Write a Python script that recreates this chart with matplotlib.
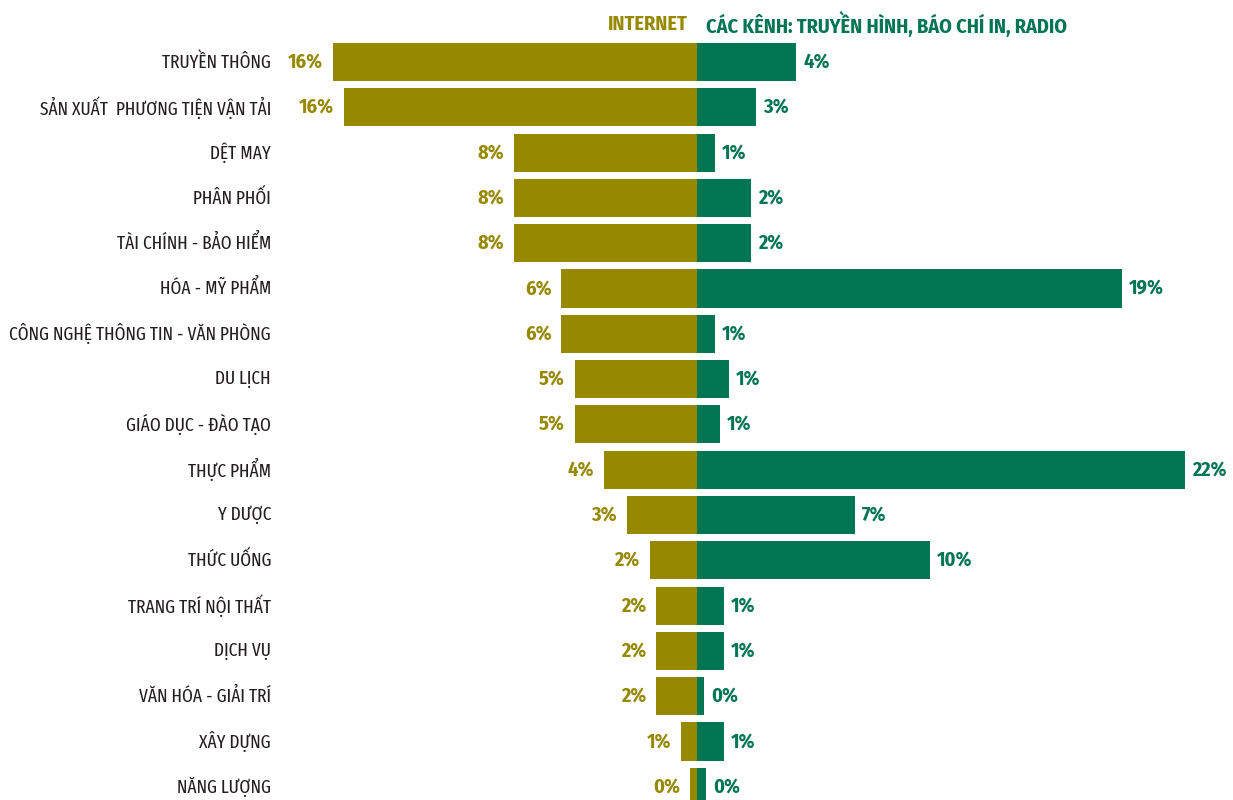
import matplotlib
matplotlib.use("Agg")
import matplotlib.pyplot as plt
import numpy as np

categories = [
    "TRUYỀN THÔNG", "SẢN XUẤT  PHƯƠNG TIỆN VẬN TẢI", "DỆT MAY", "PHÂN PHỐI",
    "TÀI CHÍNH - BẢO HIỂM", "HÓA - MỸ PHẨM", "CÔNG NGHỆ THÔNG TIN - VĂN PHÒNG",
    "DU LỊCH", "GIÁO DỤC - ĐÀO TẠO", "THỰC PHẨM", "Y DƯỢC", "THỨC UỐNG",
    "TRANG TRÍ NỘI THẤT", "DỊCH VỤ", "VĂN HÓA - GIẢI TRÍ", "XÂY DỰNG", "NĂNG LƯỢNG",
]
# share of ad spend (%), internet vs traditional channels
internet = [16.1, 15.6, 8.1, 8.1, 8.1, 6.0, 6.0, 5.4, 5.4, 4.1, 3.1, 2.1, 1.8, 1.8, 1.8, 0.7, 0.3]
traditional = [4.4, 2.6, 0.8, 2.4, 2.4, 18.8, 0.8, 1.4, 1.0, 21.6, 7.0, 10.3, 1.2, 1.2, 0.3, 1.2, 0.4]

series_names = ["INTERNET", "CÁC KÊNH: TRUYỀN HÌNH, BÁO CHÍ IN, RADIO"]

OLIVE = "#968900"
GREEN = "#007552"
TEXT = "#231f20"

W, H = 1233, 800
PX_PER_PCT = 22.6
CENTER_PX = 697
ROW0_PX, ROW_PX = 62, 45.3

plt.rcParams["font.family"] = ["Fira Sans Condensed", "Roboto Condensed",
                               "Barlow Condensed", "DejaVu Sans"]
LABEL_FONT = ["Fira Sans Extra Condensed", "Fira Sans Condensed", "DejaVu Sans"]

fig = plt.figure(figsize=(W / 100, H / 100), dpi=100)
ax = fig.add_axes([0, 0, 1, 1])
ax.set_xlim(-CENTER_PX / PX_PER_PCT, (W - CENTER_PX) / PX_PER_PCT)
ax.set_ylim((H - ROW0_PX) / ROW_PX, -ROW0_PX / ROW_PX)
ax.axis("off")

y = np.arange(len(categories))
ax.barh(y, [-v for v in internet], height=0.84, color=OLIVE, linewidth=0)
ax.barh(y, traditional, height=0.84, color=GREEN, linewidth=0)

left_gap = 10 / PX_PER_PCT
right_gap = 7 / PX_PER_PCT
label_x = -(CENTER_PX - 271) / PX_PER_PCT
for i, (name, a, b) in enumerate(zip(categories, internet, traditional)):
    ax.text(label_x, i, name, ha="right", va="center", fontsize=13.6,
            color=TEXT, family=LABEL_FONT)
    ax.text(-a - left_gap, i, f"{a:.0f}%", ha="right", va="center",
            fontsize=14.5, fontweight="bold", color=OLIVE)
    ax.text(b + right_gap, i, f"{b:.0f}%", ha="left", va="center",
            fontsize=14.5, fontweight="bold", color=GREEN)

# series headers above the bars
head_y = -(ROW0_PX - 24) / ROW_PX
ax.text(-9 / PX_PER_PCT, head_y, series_names[0], ha="right", va="center",
        fontsize=14.5, fontweight="bold", color=OLIVE)
ax.text(9 / PX_PER_PCT, head_y, series_names[1], ha="left", va="center",
        fontsize=14.5, fontweight="bold", color=GREEN)

fig.savefig("out.png", dpi=100)
